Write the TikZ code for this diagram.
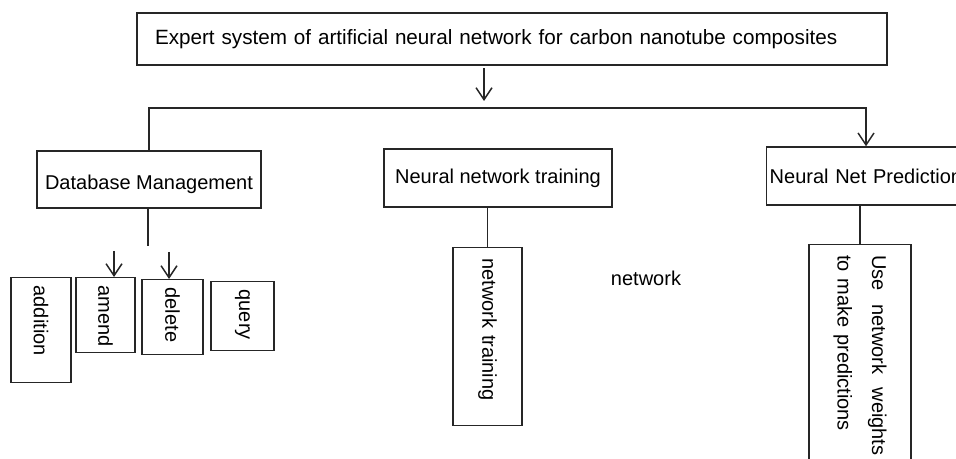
\documentclass[tikz,border=0pt]{standalone}
\usepackage{fontspec}
\setmainfont{Liberation Sans}
\usetikzlibrary{arrows.meta,calc}

\begin{document}
\begin{tikzpicture}[x=0.75pt, y=-0.75pt, line width=1.1pt,
module/.style={rectangle,draw=black!85,font=\fontsize{15}{18}\selectfont},
task/.style={rectangle,draw=black!85,rotate=-90,anchor=west,align=left,inner xsep=6pt,font=\fontsize{15}{18}\selectfont},
arr/.style={draw=black!85,-{Straight Barb[length=9pt,width=12pt]}},
%% every node/.style = {draw, align=center}
]
\clip (0,0) rectangle (956,459);
\useasboundingbox (0,0) rectangle (956,459);

\node[module, text width=535.5pt, align=left, inner xsep=13.5pt, minimum height=39pt, font=\fontsize{15.5}{18}\selectfont] (expert) at (512,39) {Expert system of artificial neural network for carbon nanotube composites};

\node[module, minimum width=168pt, minimum height=42.75pt, text height=18pt, text depth=3pt] (dbm) at (149,179.5) {Database Management};
\node[module, minimum width=171pt, minimum height=43.5pt] (nnt) at (498,178) {Neural network training};
\node[module, anchor=west, text width=150pt, align=left, inner xsep=2.25pt, minimum height=43.5pt] (nnp) at (766,176) {Neural Net Prediction};

% database tasks
\node[task, minimum width=78.75pt, minimum height=45pt, text width=66.75pt] (addition) at (41,277) {addition};
\node[task, minimum width=56.25pt, minimum height=44.25pt, text width=44.25pt] (amend) at (105.5,277) {amend};
\node[task, minimum width=56.25pt, minimum height=45.75pt, text width=44.25pt] (delete) at (172.5,279) {delete};
\node[task, minimum width=51.75pt, minimum height=47.25pt, text width=39.75pt] (query) at (242.5,281) {query};

\node[task, minimum width=133.5pt, minimum height=51.75pt, text width=117.5pt, inner xsep=8pt] (ntrain) at (487.5,247) {network training};
\node[font=\fontsize{15}{18}\selectfont] (netlabel) at (646,278) {network};
\node[task, minimum width=169.5pt, minimum height=76.5pt, text width=153.5pt, inner xsep=8pt] (usew) at (860,244) {Use\hspace{10pt}network\hspace{10pt}weights\\[8pt]to make predictions};

\coordinate (mid) at (484,101);
\coordinate (busR) at (866,108);
\coordinate (dbend) at (148,246);
\coordinate (amendtip) at (114,251);
\coordinate (deletetip) at (169,252);

\draw[arr, shorten <=2pt] (expert.south -| mid) -- (mid);
\draw[arr] (dbm.north) |- (busR) -- (busR |- nnp.north);
\draw[black!85] (dbm.south -| dbend) -- (dbend);
\draw[arr] (amendtip) -- (amendtip |- amend.west);
\draw[arr] (deletetip) -- (deletetip |- delete.west);
\draw[black!85] (nnt.south -| ntrain.west) -- (ntrain.west);
\draw[black!85] (nnp.south -| usew.west) -- (usew.west);
\end{tikzpicture}
\end{document}
